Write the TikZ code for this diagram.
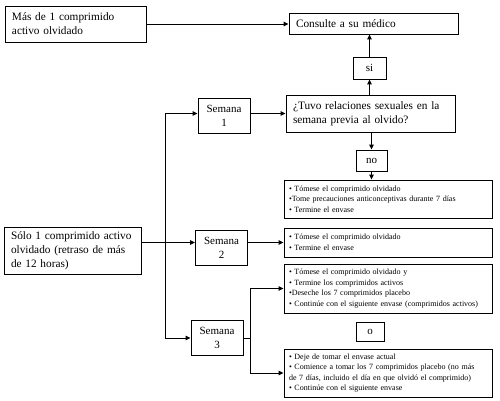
\documentclass[tikz,border=0pt]{standalone}
\usepackage{fontspec}
\setmainfont{Liberation Serif}
\usetikzlibrary{arrows.meta, positioning}

\begin{document}
\begin{tikzpicture}[x=1pt, y=-1pt, >={Triangle[length=5pt, width=4.5pt]}, line width=0.9pt,
    caja/.style={draw, rectangle, inner xsep=7pt, inner ysep=2pt, align=left, font=\fontsize{11.3}{14}\selectfont},
    semana/.style={draw, rectangle, align=center, minimum width=52pt, minimum height=35pt, font=\fontsize{11}{14}\selectfont},
    lista/.style={draw, rectangle, inner xsep=5pt, align=left, text width=198pt, font=\fontsize{8}{10.5}\selectfont},
    corta/.style={draw, rectangle, minimum width=31pt, minimum height=21pt, font=\fontsize{11}{14}\selectfont}]
    \useasboundingbox (0,0) rectangle (500,401);

    % Cajas principales
    \node[caja, text width=127pt, minimum height=36pt] (mas) at (75.5,24) {Más de 1 comprimido\\activo olvidado};
    \node[caja, text width=155pt, minimum height=21pt] (consulte) at (373.5,23.5) {Consulte a su médico};
    \node[caja, text width=155pt, minimum height=37pt] (pregunta) at (370.5,113.5) {¿Tuvo relaciones sexuales en la\\semana previa al olvido?};
    \node[caja, text width=123pt, minimum height=47pt] (solo) at (72.5,250.5) {Sólo 1 comprimido activo\\olvidado (retraso de más\\de 12 horas)};

    % Semanas
    \node[semana] (sem1) at (224,116) {Semana\\1};
    \node[semana] (sem2) at (221.5,247.5) {Semana\\2};
    \node[semana] (sem3) at (217,338) {Semana\\3};

    % Respuestas cortas
    \node[corta, minimum width=33pt, minimum height=22pt] (si) at (369.5,68) {si};
    \node[corta] (no) at (371.5,160.5) {no};
    \node[corta, minimum width=28pt, minimum height=19pt] (o) at (370,331.5) {o};

    % Listas de instrucciones
    \node[lista, minimum height=38pt] (b1) at (388,199) {• Tómese el comprimido olvidado\\•Tome precauciones anticonceptivas durante 7 días\\• Termine el envase};
    \node[lista, minimum height=29pt] (b2) at (388,242.5) {• Tómese el comprimido olvidado\\• Termine el envase};
    \node[lista, minimum height=49pt] (b3) at (388,288.5) {• Tómese el comprimido olvidado y\\• Termine los comprimidos activos\\•Deseche los 7 comprimidos placebo\\• Continúe con el siguiente envase (comprimidos activos)};
    \node[lista, minimum height=48pt] (b4) at (388,373) {• Deje de tomar el envase actual\\• Comience a tomar los 7 comprimidos placebo (no más\\de 7 días, incluido el día en que olvidó el comprimido)\\• Continúe con el siguiente envase};

    % Conexiones
    \coordinate (tronco) at (165,0);
    \coordinate (rama) at (250,0);
    \draw[->] (mas.east) -- (mas.east -| consulte.west);
    \draw[->] (si.north) -- (si.north |- consulte.south);
    \draw[->] (pregunta.north -| si) -- (si.south);
    \draw[->] (pregunta.south -| no) -- (no.north);
    \draw[->] (no.south) -- (no.south |- b1.north);
    \draw[->] (sem1.east |- pregunta.west) -- (pregunta.west);
    \draw[<->] (sem1.west |- pregunta.west) -- (pregunta.west -| tronco) -- (sem3.west -| tronco) -- (sem3.west);
    \draw[->] (solo.east |- b2.west) -- (sem2.west |- b2.west);
    \draw[->] (sem2.east |- b2.west) -- (b2.west);
    \draw (sem3.east) -- (sem3.east -| rama);
    \draw[<->] (b3.west) -- (b3.west -| rama) -- (b4.west -| rama) -- (b4.west);
\end{tikzpicture}
\end{document}
